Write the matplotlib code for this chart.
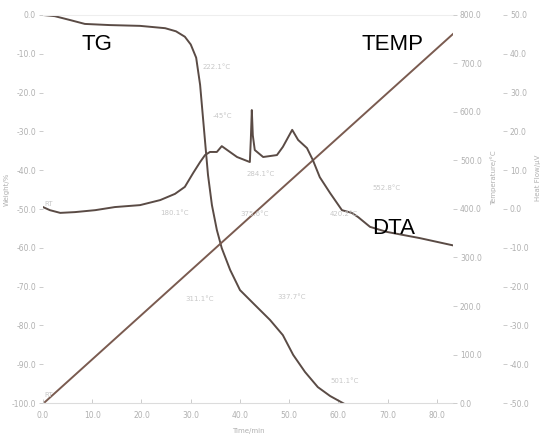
import numpy as np
import matplotlib.pyplot as plt

# TG curve (time in min, weight loss in %)
tg_time = [0.0, 2.4, 5.5, 8.5, 13.6, 19.7, 24.8, 27.0, 28.8, 30.0, 31.1, 31.9, 32.7,
           33.5, 34.3, 35.3, 36.3, 38.0, 40.0, 43.0, 46.1, 48.7, 50.8, 53.2, 55.8,
           58.3, 61.3, 63.4]
tg_weight = [0.0, -0.3, -1.3, -2.3, -2.6, -2.8, -3.4, -4.2, -5.6, -7.6, -11.0, -18.0,
             -29.6, -41.2, -49.0, -55.4, -60.1, -65.7, -70.9, -74.7, -78.6, -82.5,
             -87.6, -92.0, -95.9, -98.2, -100.3, -100.5]

# DTA curve (time in min, heat flow in uV)
dta_time = [0.0, 1.4, 3.5, 6.5, 10.6, 14.6, 19.7, 23.8, 26.8, 28.8, 30.5, 31.9, 32.9,
            33.9, 35.3, 36.3, 37.4, 39.4, 42.0, 42.2, 42.4, 42.6, 43.0, 44.7, 47.5,
            48.7, 50.6, 51.8, 53.6, 54.8, 56.2, 58.3, 60.7, 62.7, 64.0, 66.4, 69.8,
            76.5, 83.7]
dta_flow = [0.5, -0.3, -1.0, -0.8, -0.3, 0.5, 1.0, 2.3, 3.9, 5.7, 9.3, 12.1, 13.9,
            14.7, 14.7, 16.2, 15.2, 13.4, 12.1, 18.0, 25.5, 19.0, 15.2, 13.4, 13.9,
            16.0, 20.4, 17.8, 15.7, 12.6, 8.2, 4.1, -0.3, -1.0, -2.1, -4.6, -5.9,
            -7.5, -9.5]

# furnace temperature
temp_time = [0.4, 36.3, 83.7]
temp_value = [2, 331, 765]

x_ticks = [0, 10, 20, 30, 40, 50, 60, 70, 80]
tg_ticks = [0, -10, -20, -30, -40, -50, -60, -70, -80, -90, -100]
temp_ticks = [0, 100, 200, 300, 400, 500, 600, 700, 800]
dta_ticks = [50, 40, 30, 20, 10, 0, -10, -20, -30, -40, -50]

# faint peak annotations
notes = [("222.1°C", 203, 67), ("-45°C", 213, 116), ("284.1°C", 247, 174),
         ("180.1°C", 160, 213), ("375.6°C", 240, 214), ("420.2°C", 330, 214),
         ("552.8°C", 372, 188), ("311.1°C", 185, 299), ("337.7°C", 277, 297),
         ("501.1°C", 330, 381), ("RT", 44, 204), ("RT", 44, 395)]

W, H = 541, 440
line_col = "#5a4b45"
tick_col = "#c4c4c4"
label_col = "#b0b0b0"

fig = plt.figure(figsize=(W / 100, H / 100), dpi=100)
ax = fig.add_axes([43 / W, 37 / H, 410 / W, 388 / H])
ax2 = ax.twinx()
ax3 = ax.twinx()

ax.plot(tg_time, tg_weight, color=line_col, lw=1.4)
ax2.plot(temp_time, temp_value, color="#7a5b50", lw=1.4)
ax3.plot(dta_time, dta_flow, color=line_col, lw=1.4)

ax.set_xlim(0, 83.25)
ax.set_ylim(-100, 0)
ax2.set_ylim(0, 800)
ax3.set_ylim(-50, 50)

ax.set_xticks(x_ticks)
ax.set_xticklabels([f"{v:.1f}" for v in x_ticks])
ax.set_yticks(tg_ticks)
ax.set_yticklabels([f"{v:.1f}" for v in tg_ticks])
ax2.set_yticks(temp_ticks)
ax2.set_yticklabels([f"{v:.1f}" for v in temp_ticks])
ax3.set_yticks(dta_ticks)
ax3.set_yticklabels([f"{v:.1f}" for v in dta_ticks])

for a in (ax, ax2, ax3):
    for s in a.spines.values():
        s.set_visible(False)
    a.tick_params(colors=tick_col, labelsize=5.5, length=3, width=0.6, pad=2)
    a.tick_params(labelcolor=label_col)
ax.spines["bottom"].set_visible(True)
ax.spines["bottom"].set_color("#dcdcdc")
ax.spines["top"].set_visible(True)
ax.spines["top"].set_color("#eeeeee")
ax.tick_params(axis="x", direction="in", length=3, pad=6)
ax3.spines["right"].set_position(("axes", 1.122))

ax.set_ylabel("Weight/%", fontsize=5, color=label_col)
ax.yaxis.set_label_coords(-0.08, 0.55)
ax2.set_ylabel("Temperature/°C", fontsize=5, color=label_col)
ax2.yaxis.set_label_coords(1.09, 0.58)
ax3.set_ylabel("Heat Flow/µV", fontsize=5, color=label_col)
ax3.yaxis.set_label_coords(1.2, 0.58)
ax.set_xlabel("Time/min", fontsize=5, color=label_col)
ax.xaxis.set_label_coords(0.5, -0.065)

for txt, px, py in notes:
    fig.text(px / W, 1 - py / H, txt, fontsize=5, color="#c8c8c8", va="center")

big = dict(fontsize=16, color="black", family="Liberation Sans", va="center")
fig.text(82 / W, 1 - 45 / H, "TG", **big)
fig.text(362 / W, 1 - 45 / H, "TEMP", **big)
fig.text(372 / W, 1 - 228 / H, "DTA", **big)

plt.savefig("out.png", dpi=100)
